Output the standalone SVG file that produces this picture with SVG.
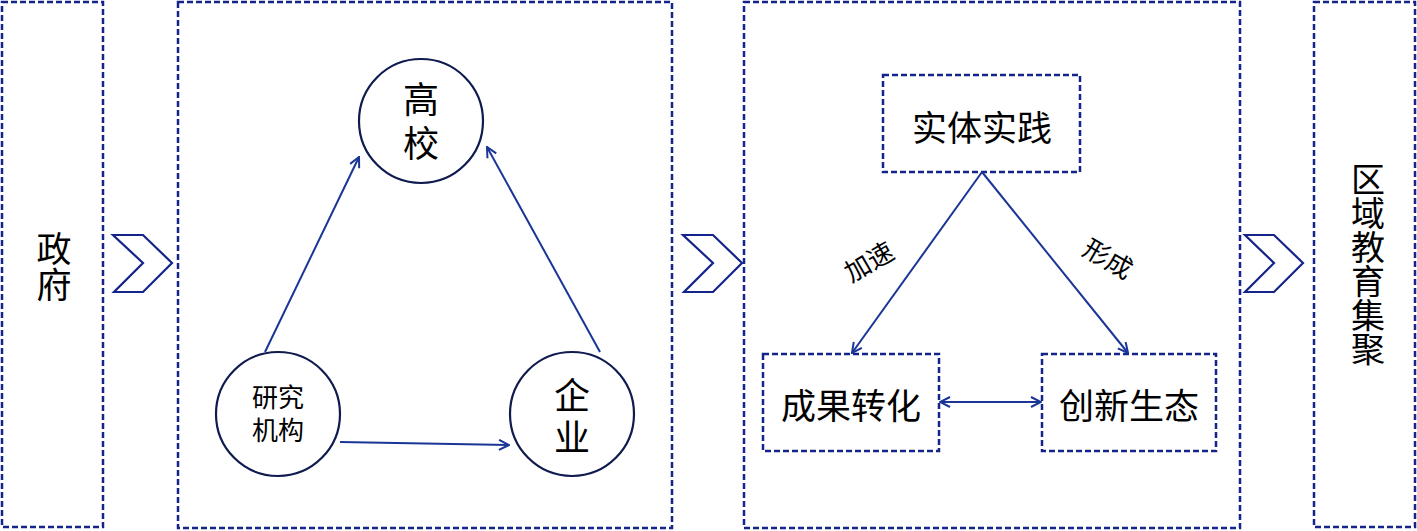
<svg xmlns="http://www.w3.org/2000/svg" width="1417" height="531" viewBox="0 0 1417 531">
<style>
.box{fill:none;stroke:#14248a;stroke-width:2.5;stroke-dasharray:6 3}
.chev{fill:none;stroke:#14248a;stroke-width:2.2;stroke-linejoin:miter}
.circ{fill:#fff;stroke:#0f1b4f;stroke-width:2.2}
.ln{fill:none;stroke:#1a3596;stroke-width:2}
.t{font-family:"Noto Sans CJK SC","Noto Sans CJK JP",sans-serif;fill:#000;text-anchor:middle;dominant-baseline:central}
.s{font-family:"Liberation Sans","Noto Sans CJK SC",sans-serif}
.v{writing-mode:vertical-rl}
</style>
<defs>
<marker id="ah" viewBox="0 0 12 12" refX="11" refY="6" markerWidth="12" markerHeight="12" markerUnits="userSpaceOnUse" orient="auto-start-reverse">
<path d="M1,1 L11,6 L1,11" fill="none" stroke="#1a3596" stroke-width="2"/>
</marker>
</defs>
<rect width="1417" height="531" fill="#fff"/>

<g id="gov">
<rect class="box" x="2" y="2" width="101" height="525"/>
<text class="t v" x="54" y="249" font-size="35">政</text>
<text class="t v" x="54" y="285" font-size="35">府</text>
</g>

<g id="chev1"><path class="chev" d="M113,235 L143,235 L172,263 L143,292 L114,292 L143,263 Z"/></g>

<g id="triad">
<rect class="box" x="178" y="2" width="494" height="526"/>
</g>

<g id="univ">
<circle class="circ" cx="421" cy="121" r="62"/>
<text class="t v" x="421" y="99" font-size="36">高</text>
<text class="t v" x="421" y="143" font-size="36">校</text>
</g>

<g id="inst">
<circle class="circ" cx="278" cy="414" r="62"/>
<text class="t s" x="278" y="398" font-size="26">研究</text>
<text class="t s" x="278" y="431" font-size="26">机构</text>
</g>

<g id="ent">
<circle class="circ" cx="572" cy="414" r="62"/>
<text class="t v" x="572" y="395" font-size="36">企</text>
<text class="t v" x="572" y="437" font-size="36">业</text>
</g>

<g id="chev2"><path class="chev" d="M683,235 L713,235 L742,263 L713,292 L684,292 L713,263 Z"/></g>

<g id="practice">
<rect class="box" x="744" y="2" width="496" height="526"/>
</g>

<g id="entity">
<rect class="box" x="883" y="75" width="197" height="97"/>
<text class="t" x="982" y="125" font-size="35">实体实践</text>
</g>

<g id="transfer">
<rect class="box" x="763" y="354" width="176" height="97"/>
<text class="t" x="851" y="403" font-size="35">成果转化</text>
</g>

<g id="eco">
<rect class="box" x="1042" y="354" width="174" height="97"/>
<text class="t" x="1129" y="403" font-size="35">创新生态</text>
</g>

<g id="chev3"><path class="chev" d="M1245,235 L1274,235 L1303,263 L1274,292 L1245,292 L1274,263 Z"/></g>

<g id="region">
<rect class="box" x="1314" y="2" width="101" height="525"/>
<text class="t v" x="1368" y="179" font-size="34">区</text>
<text class="t v" x="1368" y="213" font-size="34">域</text>
<text class="t v" x="1368" y="247" font-size="34">教</text>
<text class="t v" x="1368" y="281" font-size="34">育</text>
<text class="t v" x="1368" y="315" font-size="34">集</text>
<text class="t v" x="1368" y="349" font-size="34">聚</text>
</g>

<g id="connectors">
<line class="ln" x1="265" y1="352" x2="359" y2="157" marker-end="url(#ah)"/>
<line class="ln" x1="600" y1="352" x2="487" y2="147" marker-end="url(#ah)"/>
<line class="ln" x1="340" y1="442" x2="509" y2="445" marker-end="url(#ah)"/>
<line class="ln" x1="982" y1="172" x2="852" y2="353" marker-end="url(#ah)"/>
<line class="ln" x1="982" y1="172" x2="1128" y2="353" marker-end="url(#ah)"/>
<line class="ln" x1="940" y1="402" x2="1041" y2="402" marker-start="url(#ah)" marker-end="url(#ah)"/>
<text class="t" x="868" y="260" font-size="26" transform="rotate(-30 868 260)">加速</text>
<text class="t" x="1109" y="257" font-size="26" transform="rotate(30 1109 257)">形成</text>
</g>
</svg>
